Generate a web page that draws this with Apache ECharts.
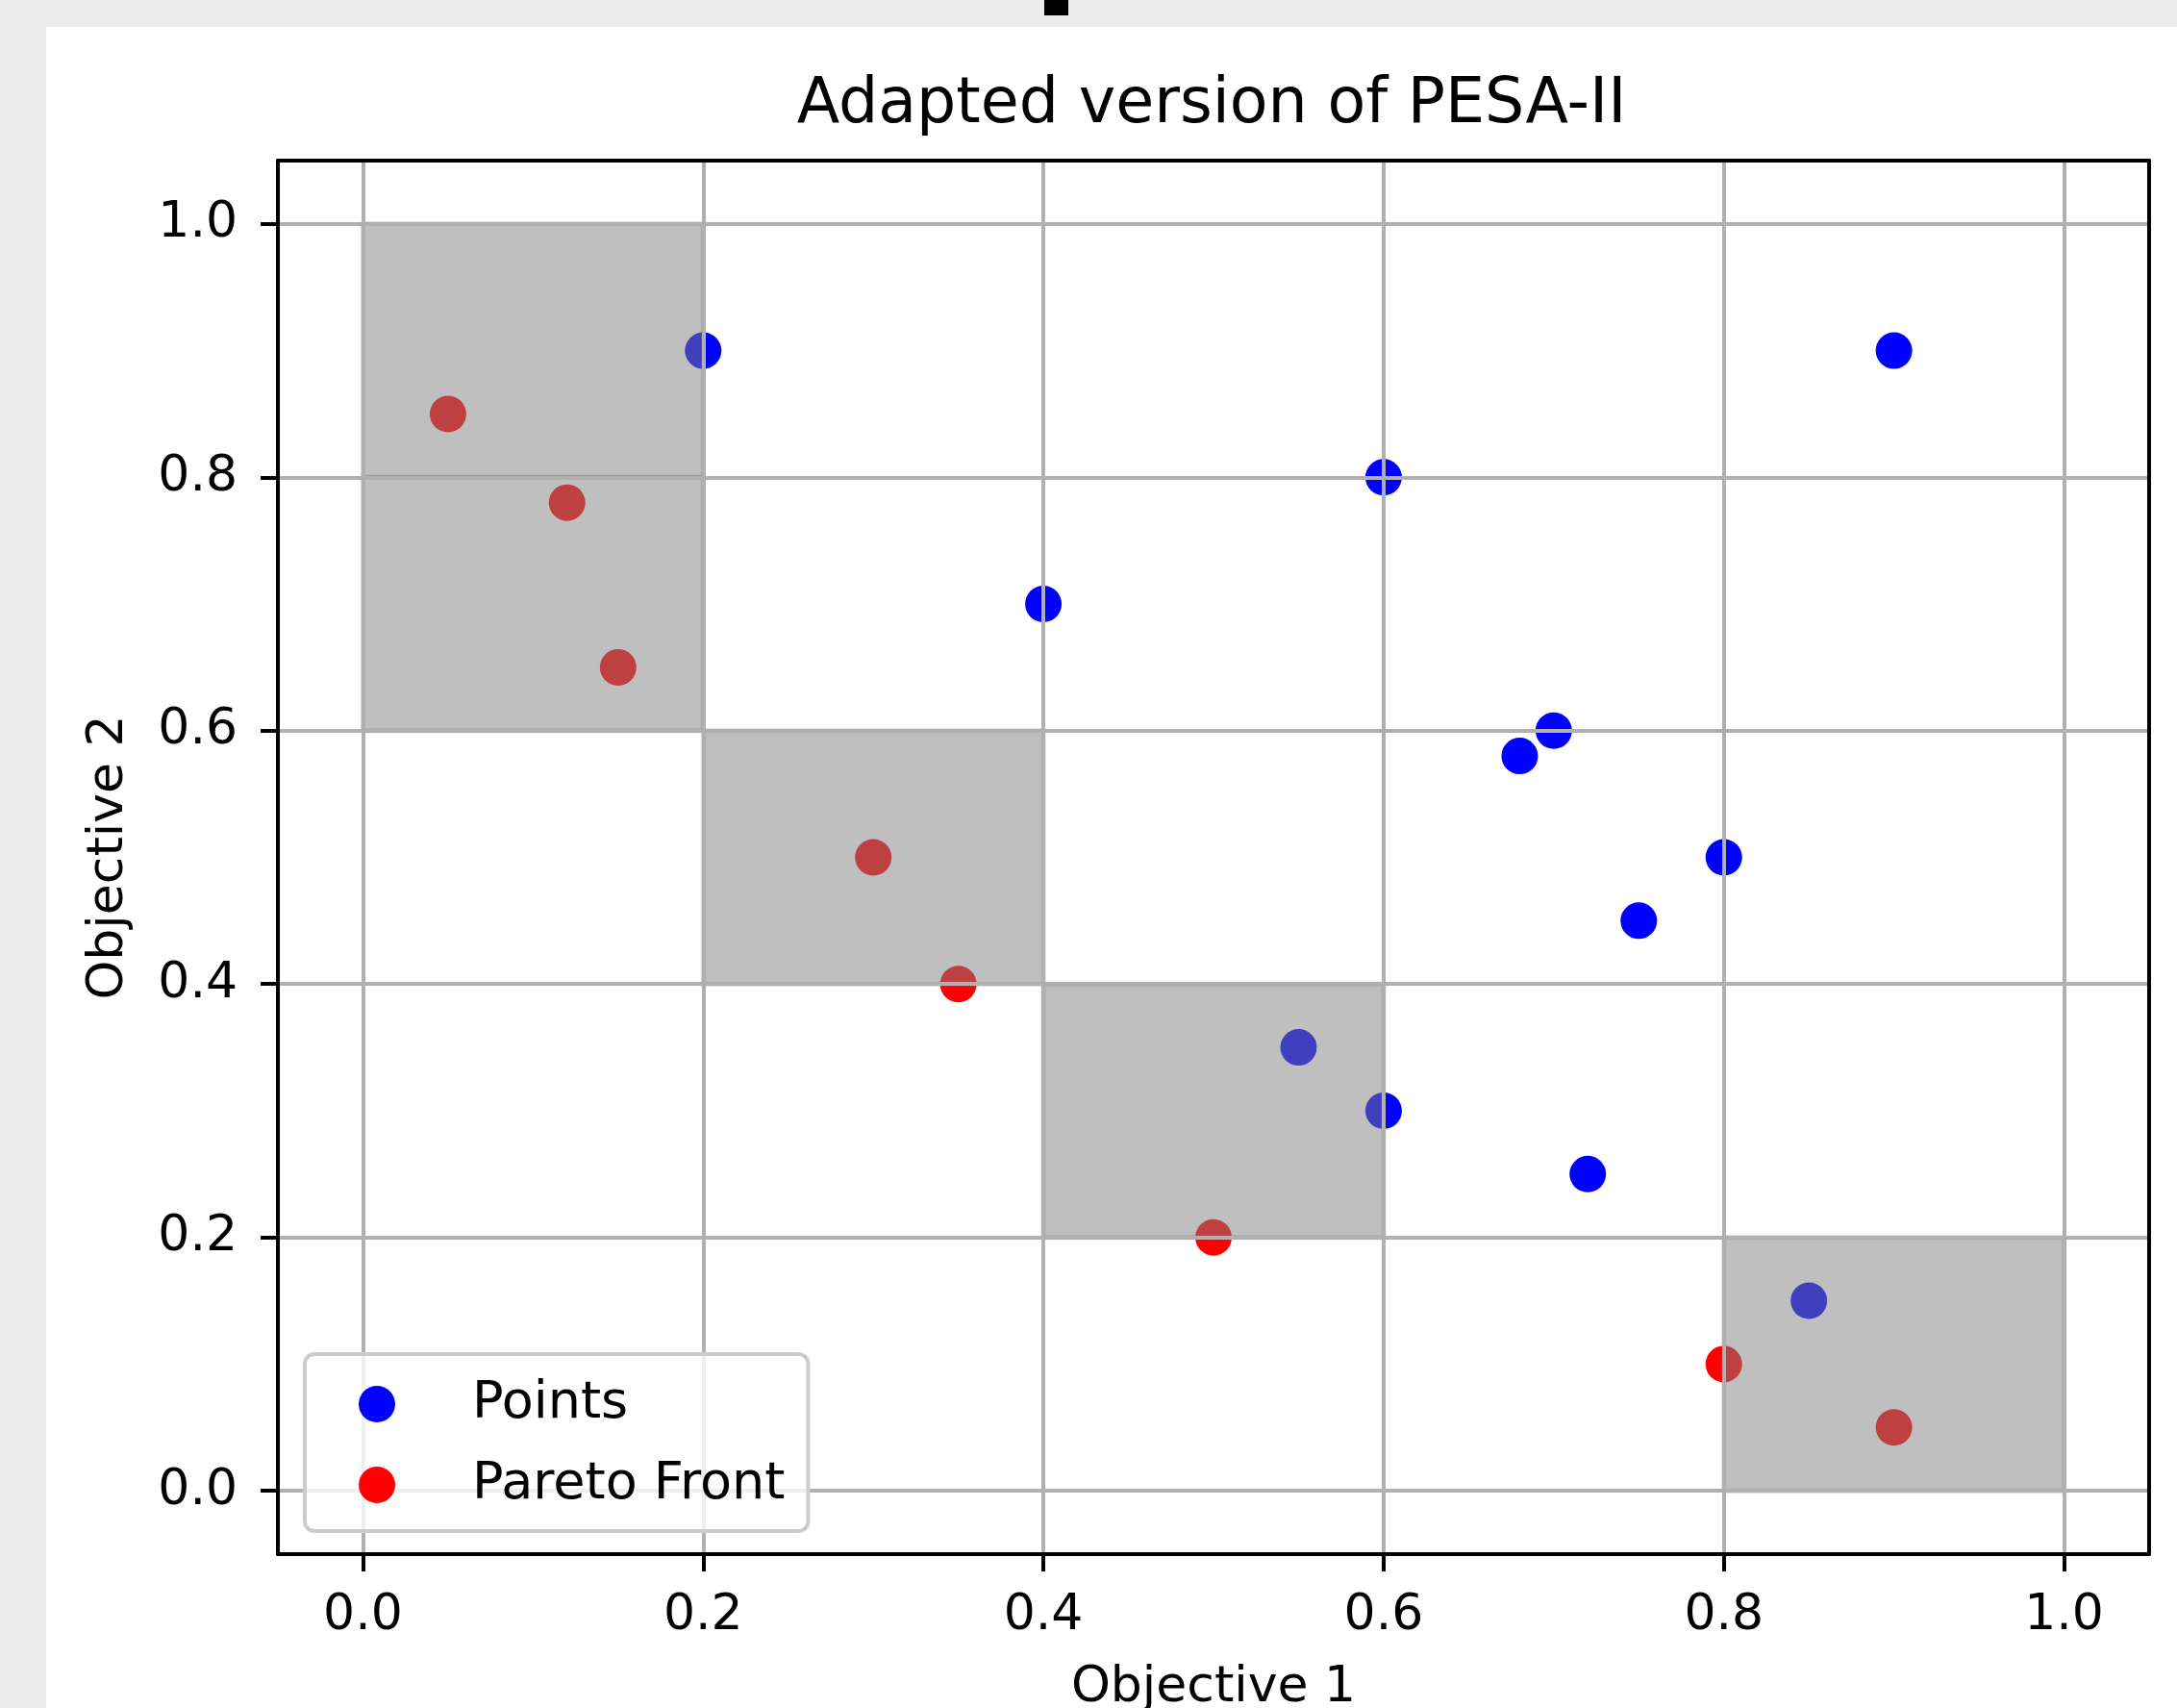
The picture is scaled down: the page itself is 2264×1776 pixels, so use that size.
<!DOCTYPE html>
<html>
<head>
<meta charset="utf-8">
<title>Adapted version of PESA-II</title>
<script src="https://cdn.jsdelivr.net/npm/echarts@6.0.0/dist/echarts.min.js"></script>
<style>
  html, body { margin: 0; padding: 0; width: 2264px; height: 1776px; overflow: hidden; background: #ebebeb; }
  .mark { position: absolute; left: 1086px; top: 0; width: 25px; height: 16px; background: #000; }
  #chart { position: absolute; left: 48px; top: 28px; width: 2216px; height: 1748px; background: #fff; }
</style>
</head>
<body>
<div class="mark"></div>
<div id="chart"></div>
<script>
  // all points [obj1, obj2]
  var points = [
    [0.2, 0.9], [0.6, 0.8], [0.4, 0.7], [0.9, 0.9], [0.7, 0.6], [0.68, 0.58],
    [0.8, 0.5], [0.75, 0.45], [0.55, 0.35], [0.6, 0.3], [0.72, 0.25], [0.85, 0.15]
  ]
  // pareto front
  var pareto = [
    [0.05, 0.85], [0.12, 0.78], [0.15, 0.65], [0.3, 0.5],
    [0.35, 0.4], [0.5, 0.2], [0.8, 0.1], [0.9, 0.05]
  ]
  // grid cells [x0, y0, x1, y1]
  var cells = [
    [0, 0.8, 0.2, 1.0], [0, 0.6, 0.2, 0.8], [0.2, 0.4, 0.4, 0.6],
    [0.4, 0.2, 0.6, 0.4], [0.8, 0, 1.0, 0.2]
  ]
  var xTicks = [0, 0.2, 0.4, 0.6, 0.8, 1.0]
  var yTicks = [0, 0.2, 0.4, 0.6, 0.8, 1.0]

  var FONT = 'DejaVu Sans'
  var myChart = echarts.init(document.getElementById('chart'))

  var labelStyle = {
    fontSize: 52,
    color: '#000',
    fontFamily: FONT,
    formatter: function (v) { return v.toFixed(1) }
  }
  var splitStyle = { show: true, lineStyle: { color: '#b0b0b0', width: 4 } }
  var lineStyle = { show: true, onZero: false, lineStyle: { color: '#000', width: 4 } }

  var option = {
    animation: false,
    title: {
      text: 'Adapted version of PESA-II',
      left: 1207,
      top: 45,
      textAlign: 'center',
      textStyle: { fontSize: 65, fontWeight: 'normal', color: '#000', fontFamily: FONT }
    },
    legend: {
      orient: 'vertical',
      left: 269,
      top: 1380,
      padding: [25, 24, 21, 56],
      itemGap: 30,
      itemWidth: 38,
      itemHeight: 38,
      icon: 'circle',
      backgroundColor: 'rgba(255,255,255,0.8)',
      borderColor: '#cccccc',
      borderWidth: 4,
      borderRadius: 10,
      z: 10,
      textStyle: { fontSize: 54, lineHeight: 52, color: '#000', fontFamily: FONT, padding: [0, 0, 0, 75] },
      data: ['Points', 'Pareto Front']
    },
    grid: {
      left: 241,
      right: 29,
      top: 139,
      bottom: 160,
      outerBoundsMode: 'none',
      containLabel: false
    },
    xAxis: [{
      type: 'value',
      min: -0.05,
      max: 1.05,
      z: 4,
      name: 'Objective 1',
      nameLocation: 'middle',
      nameGap: 113,
      nameTextStyle: { fontSize: 52, color: '#000', fontFamily: FONT },
      axisLine: lineStyle,
      axisTick: { show: true, length: 18, customValues: xTicks, lineStyle: { color: '#000', width: 4 } },
      axisLabel: Object.assign({ customValues: xTicks, margin: 38 }, labelStyle),
      splitLine: splitStyle
    }, {
      type: 'value',
      position: 'top',
      min: -0.05,
      max: 1.05,
      z: 5,
      axisLine: lineStyle,
      axisTick: { show: false },
      axisLabel: { show: false },
      splitLine: { show: false }
    }],
    yAxis: [{
      type: 'value',
      min: -0.05,
      max: 1.05,
      z: 4,
      name: 'Objective 2',
      nameLocation: 'middle',
      nameGap: 150,
      nameTextStyle: { fontSize: 52, color: '#000', fontFamily: FONT },
      axisLine: lineStyle,
      axisTick: { show: true, length: 18, customValues: yTicks, lineStyle: { color: '#000', width: 4 } },
      axisLabel: Object.assign({ customValues: yTicks, margin: 42 }, labelStyle),
      splitLine: splitStyle
    }, {
      type: 'value',
      position: 'right',
      min: -0.05,
      max: 1.05,
      z: 5,
      axisLine: lineStyle,
      axisTick: { show: false },
      axisLabel: { show: false },
      splitLine: { show: false }
    }],
    series: [{
      name: 'Points',
      type: 'scatter',
      symbolSize: 38,
      z: 2,
      itemStyle: { color: '#0000ff', opacity: 1 },
      emphasis: { disabled: true },
      data: points
    }, {
      name: 'Pareto Front',
      type: 'scatter',
      symbolSize: 38,
      z: 2,
      itemStyle: { color: '#ff0000', opacity: 1 },
      emphasis: { disabled: true },
      data: pareto
    }, {
      // gray cells on top of the points
      type: 'custom',
      z: 3,
      silent: true,
      encode: { x: [0, 2], y: [1, 3] },
      renderItem: function (params, api) {
        var p0 = api.coord([api.value(0), api.value(3)])
        var p1 = api.coord([api.value(2), api.value(1)])
        return {
          type: 'rect',
          shape: { x: p0[0], y: p0[1], width: p1[0] - p0[0], height: p1[1] - p0[1] },
          style: { fill: 'rgba(128,128,128,0.5)', stroke: 'rgba(128,128,128,0.3)', lineWidth: 5 }
        }
      },
      data: cells
    }]
  }

  myChart.setOption(option)
</script>
</body>
</html>
